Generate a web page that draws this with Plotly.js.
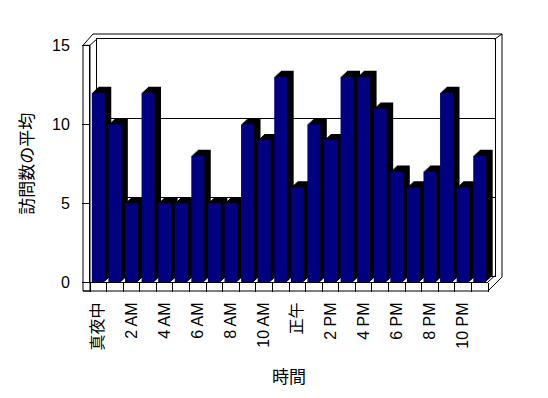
<!DOCTYPE html>
<html>
<head>
<meta charset="utf-8">
<script src="https://cdn.plot.ly/plotly-3.0.1.min.js"></script>
<style>html,body{margin:0;padding:0;background:#fff;}#chart{width:548px;height:398px;}</style>
</head>
<body>
<div id="chart"></div>
<script>
// ---- data ----
const hours = ["真夜中","1 AM","2 AM","3 AM","4 AM","5 AM","6 AM","7 AM","8 AM","9 AM","10 AM","11 AM",
               "正午","1 PM","2 PM","3 PM","4 PM","5 PM","6 PM","7 PM","8 PM","9 PM","10 PM","11 PM"];
const avgVisits = [12,10,5,12,5,5,8,5,5,10,9,13,6,10,9,13,13,11,7,6,7,12,6,8];
const tickLabels = ["真夜中","","2 AM","","4 AM","","6 AM","","8 AM","","10 AM","",
                    "正午","","2 PM","","4 PM","","6 PM","","8 PM","","10 PM",""];
const yTitle = "訪問数の平均";
const xTitle = "時間";

// ---- geometry (pixels) ----
const W = 548, H = 398;
const FX0 = 90, FX1 = 488, FYB = 282, FYT = 45.3;   // front plane
const DX = 6.5, DY = 6, STEPS = 6;                  // depth
const px = p => p / W, py = p => 1 - p / H;
const FONT = '"Liberation Sans", "Noto Sans CJK JP", sans-serif';
const CJK = '"Noto Sans CJK JP", "Noto Sans", sans-serif';

const layout = {
  width: W, height: H,
  margin: {l: 0, r: 0, t: 0, b: 0},
  paper_bgcolor: '#ffffff',
  plot_bgcolor: 'rgba(0,0,0,0)',
  showlegend: false,
  bargap: 0.22,
  font: {family: FONT, color: '#000', size: 14},
  shapes: []
};
const traces = [];

// back wall + depth sweep (k = STEPS .. 1), front last
for (let i = 1; i <= STEPS + 1; i++) {
  const k = STEPS + 1 - i;           // depth step
  const xa = i === 1 ? 'x' : 'x' + i, ya = i === 1 ? 'y' : 'y' + i;
  const xk = i === 1 ? 'xaxis' : 'xaxis' + i, yk = i === 1 ? 'yaxis' : 'yaxis' + i;
  const ox = DX * k / STEPS, oy = DY * k / STEPS;
  const xdom = [px(FX0 + ox), px(FX1 + ox)];
  const ydom = [py(FYB - oy), py(FYT - oy)];
  if (k === STEPS) {
    layout[xk] = {domain: xdom, anchor: ya, type: 'category', range: [-0.5, 23.5],
      showline: true, mirror: true, linecolor: '#000', linewidth: 1,
      ticks: '', showticklabels: false, showgrid: false, zeroline: false, fixedrange: true};
    layout[yk] = {domain: ydom, anchor: xa, range: [0, 15], dtick: 5,
      showline: true, mirror: true, linecolor: '#000', linewidth: 1,
      showgrid: true, gridcolor: '#000', gridwidth: 1, ticks: '', showticklabels: false,
      zeroline: false, fixedrange: true};
  } else if (k > 0) {
    layout[xk] = {domain: xdom, anchor: ya, type: 'category', range: [-0.5, 23.5], visible: false, fixedrange: true};
    layout[yk] = {domain: ydom, anchor: xa, range: [0, 15], visible: false, fixedrange: true};
  } else {
    layout[xk] = {domain: xdom, anchor: ya, type: 'category', range: [-0.5, 23.5],
      showline: true, linecolor: '#000', linewidth: 1,
      ticks: 'outside', ticklen: 9, tickcolor: '#000', tickwidth: 1, tickson: 'boundaries',
      tickvals: hours, ticktext: tickLabels, tickangle: -90, ticklabelstandoff: 13,
      tickfont: {family: FONT, size: 16, color: '#000'},
      showgrid: false, zeroline: false, fixedrange: true,
      title: {text: xTitle, font: {family: CJK, size: 17, color: '#000'}, standoff: 21}};
    layout[yk] = {domain: ydom, anchor: xa, range: [0, 15], dtick: 5,
      showline: true, linecolor: '#000', linewidth: 1,
      ticks: 'outside', ticklen: 7, tickcolor: '#000', tickwidth: 1, ticklabelstandoff: 9,
      tickfont: {family: FONT, size: 16, color: '#000'},
      showgrid: false, zeroline: false, fixedrange: true,
      title: {text: yTitle, font: {family: CJK, size: 17, color: '#000'}, standoff: 14}};
  }
  traces.push({
    type: 'bar', x: hours, y: avgVisits, xaxis: xa, yaxis: ya,
    marker: {color: k === 0 ? '#000080' : '#000000', line: {width: 0}},
    hoverinfo: 'skip'
  });
}

// wall / floor outlines
const P = (x, y) => px(x) + ',' + py(y);
const line = {color: '#000', width: 1};
layout.shapes.push(
  {type: 'rect', xref: 'paper', yref: 'paper', x0: px(83), x1: px(FX0), y0: py(291), y1: py(FYT), line: line},
  {type: 'line', xref: 'paper', yref: 'paper', x0: px(83), x1: px(FX1), y0: py(291), y1: py(291), line: line},
  {type: 'path', xref: 'paper', yref: 'paper', line: line,
   path: 'M' + P(83, FYT) + ' L' + P(93, 34) + ' L' + P(502, 34) + ' L' + P(502, 277) + ' L' + P(FX1, 291)},
  {type: 'path', xref: 'paper', yref: 'paper', line: line,
   path: 'M' + P(FX0, FYT) + ' L' + P(FX0 + DX, FYT - DY)},
  {type: 'path', xref: 'paper', yref: 'paper', line: line,
   path: 'M' + P(FX1 + DX, FYT - DY) + ' L' + P(502, 34)},
  {type: 'path', xref: 'paper', yref: 'paper', line: line,
   path: 'M' + P(FX1, FYB) + ' L' + P(FX1 + DX, FYB - DY)}
);

Plotly.newPlot('chart', traces, layout, {staticPlot: true, displayModeBar: false});
</script>
</body>
</html>
